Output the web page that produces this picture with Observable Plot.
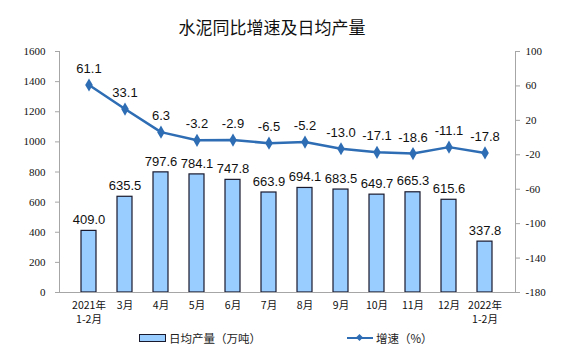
<!DOCTYPE html>
<html>
<head>
<meta charset="utf-8">
<script src="https://cdn.jsdelivr.net/npm/d3@7"></script>
<script src="https://cdn.jsdelivr.net/npm/@observablehq/plot@0.6"></script>
<style>
  html, body { margin: 0; padding: 0; background: #fff; }
  #wrap { position: relative; width: 574px; height: 359px; overflow: hidden; }
  #title { position: absolute; left: 0; width: 544px; top: 17px; text-align: center;
    font-family: "Noto Sans CJK SC", sans-serif; font-size: 17px; line-height: 20px; color: #111; }
  .leg { position: absolute; top: 330px; font-family: "Noto Sans CJK SC", sans-serif; font-size: 11.5px; line-height: 16px; color: #222; }
  .sw-bar { position: absolute; width: 25px; height: 6px; background: #99CCFF; border: 1px solid #1a1a2e; top: 4px; }
  .sw-line { position: absolute; width: 26px; height: 2px; background: #2E6DB4; top: 7px; }
  .sw-dia { position: absolute; width: 5px; height: 5px; background: #2E6DB4; transform: rotate(45deg); top: 5px; left: 10px; }
  svg { position: absolute; left: 0; top: 0; }
</style>
</head>
<body>
<div id="wrap">
  <div id="title">水泥同比增速及日均产量</div>
  <div class="leg" style="left:139px;"><div class="sw-bar" style="left:0"></div><span style="position:absolute;left:30px;white-space:nowrap;">日均产量（万吨）</span></div>
  <div class="leg" style="left:347px;"><div class="sw-line" style="left:0"></div><div class="sw-dia"></div><span style="position:absolute;left:29px;white-space:nowrap;">增速（%）</span></div>
</div>
<script>
const categories = ["2021年\n1-2月", "3月", "4月", "5月", "6月", "7月", "8月", "9月", "10月", "11月", "12月", "2022年\n1-2月"];
const output = [409.0, 635.5, 797.6, 784.1, 747.8, 663.9, 694.1, 683.5, 649.7, 665.3, 615.6, 337.8];
const growth = [61.1, 33.1, 6.3, -3.2, -2.9, -6.5, -5.2, -13.0, -17.1, -18.6, -11.1, -17.8];
const leftTicks = [0, 200, 400, 600, 800, 1000, 1200, 1400, 1600];
const rightTicks = [-180, -140, -100, -60, -20, 20, 60, 100];

const rMin = -180, rMax = 100, lMax = 1600;
const toLeft = v => (v - rMin) / (rMax - rMin) * lMax;
const fromLeft = v => v / lMax * (rMax - rMin) + rMin;

const data = categories.map((c, i) => ({cat: c, out: output[i], g: growth[i], gl: toLeft(growth[i])}));

const axisColor = "#a6a6a6";
const serif = "'Liberation Serif', 'Times New Roman', serif";
const sans = "'Liberation Sans', Arial, sans-serif";

const chart = Plot.plot({
  width: 574,
  height: 359,
  marginTop: 51,
  marginBottom: 67,
  marginLeft: 59,
  marginRight: 59,
  style: {background: "transparent", overflow: "visible"},
  x: {domain: categories, padding: 0.58, label: null},
  y: {domain: [0, lMax], label: null},
  marks: [
    Plot.barY(data, {x: "cat", y: "out", fill: "#99CCFF", stroke: "#1a1a2e", strokeWidth: 1.2}),
    Plot.frame({anchor: "left", stroke: axisColor}),
    Plot.frame({anchor: "right", stroke: axisColor}),
    Plot.frame({anchor: "bottom", stroke: axisColor}),
    Plot.axisY({ticks: leftTicks, tickSize: 4, tickPadding: 10, stroke: axisColor, fill: "#111",
      fontFamily: serif, fontSize: 11, label: null, tickFormat: d => String(d)}),
    Plot.axisY({anchor: "right", ticks: rightTicks.map(toLeft), tickSize: 4, tickPadding: 6, stroke: axisColor, fill: "#111",
      fontFamily: serif, fontSize: 11, label: null, tickFormat: d => String(Math.round(fromLeft(d)))}),
    Plot.axisX({tickSize: 0, tickPadding: 7, fill: "#111", fontFamily: "'Noto Sans CJK SC', sans-serif", fontSize: 10.5,
      lineHeight: 1.3, label: null}),
    Plot.text(data, {x: "cat", y: "out", text: d => d.out.toFixed(1), dy: -11, fontFamily: sans, fontSize: 13, fill: "#111"}),
    Plot.line(data, {x: "cat", y: "gl", stroke: "#2E6DB4", strokeWidth: 2.5}),
    Plot.dot(data, {x: "cat", y: "gl", symbol: "diamond", r: 4, fill: "#2E6DB4"}),
    Plot.text(data, {x: "cat", y: "gl", text: d => d.g.toFixed(1), dy: -16, fontFamily: sans, fontSize: 13, fill: "#111"})
  ]
});
document.getElementById("wrap").appendChild(chart);
</script>
</body>
</html>
